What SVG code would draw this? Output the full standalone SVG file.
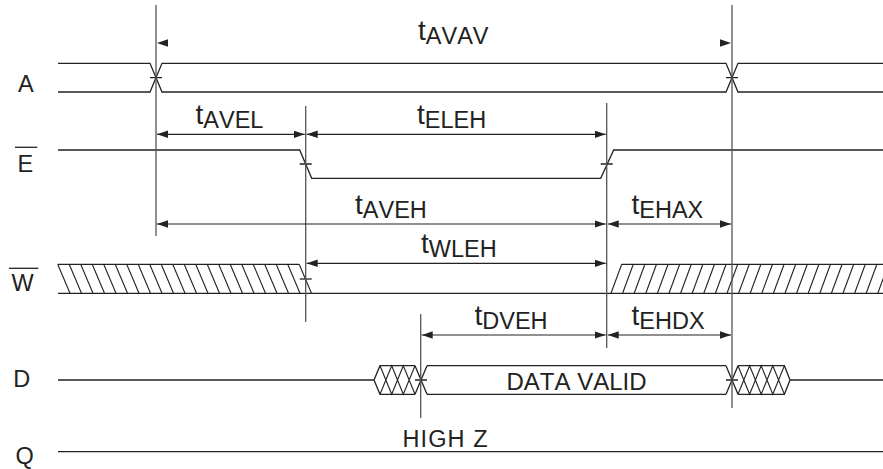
<svg xmlns="http://www.w3.org/2000/svg" width="883" height="469" viewBox="0 0 883 469">
<style>
  .sig{fill:none;stroke:#222;stroke-width:1.3}
  .hat{fill:none;stroke:#222;stroke-width:1.1}
  .ref{fill:none;stroke:#555;stroke-width:1.3}
  .dim{fill:none;stroke:#222;stroke-width:1.2;marker-start:url(#ah);marker-end:url(#ah)}
  text{font-kerning:none}
  .lbl{font-family:"Liberation Sans",Arial,sans-serif;font-size:23.5px;fill:#222}
  .t{font-family:"Liberation Sans",Arial,sans-serif;font-size:28px;fill:#222}
  .s{font-size:23.5px}
  .head{fill:#222}
</style>
<defs>
  <marker id="ah" viewBox="0 0 11 8" refX="11" refY="4" markerWidth="11" markerHeight="8" markerUnits="userSpaceOnUse" orient="auto-start-reverse">
    <path d="M0,0.3 L11,4 L0,7.7 Z" fill="#222"/>
  </marker>
</defs>
<rect width="883" height="469" fill="#fff"/>

<g id="sig-A">
  <text class="lbl" x="18" y="92.3">A</text>
  <path class="sig" d="M58,63.3 H150 L162,92 H726 L738,63.3 H883"/>
  <path class="sig" d="M58,92 H150 L162,63.3 H726 L738,92 H883"/>
  <path class="sig" d="M150,77.7 H162 M726,77.7 H738"/>
</g>

<g id="sig-E">
  <text class="lbl" x="17.4" y="172.3">E</text>
  <path class="sig" d="M15,147.3 H37.3"/>
  <path class="sig" d="M58,150 H299.7 L311.7,178.3 H600.7 L613.7,150 H883"/>
  <path class="sig" d="M299.7,164 H311.7 M600.7,164 H612.7"/>
</g>

<g id="sig-W">
  <text class="lbl" x="11.5" y="290.7">W</text>
  <path class="sig" d="M9,268.3 H38.3"/>
  <path class="sig" d="M58,264.3 H299.2 M58,293.3 H883 M621.7,264.3 H883"/>
  <path class="hat" d="M57.7,264.3 L70,293.3 M69.2,264.3 L81.5,293.3 M80.7,264.3 L93,293.3 M92.2,264.3 L104.5,293.3 M103.7,264.3 L116,293.3 M115.2,264.3 L127.5,293.3 M126.7,264.3 L139,293.3 M138.2,264.3 L150.5,293.3 M149.7,264.3 L162,293.3 M161.2,264.3 L173.5,293.3 M172.7,264.3 L185,293.3 M184.2,264.3 L196.5,293.3 M195.7,264.3 L208,293.3 M207.2,264.3 L219.5,293.3 M218.7,264.3 L231,293.3 M230.2,264.3 L242.5,293.3 M241.7,264.3 L254,293.3 M253.2,264.3 L265.5,293.3 M264.7,264.3 L277,293.3 M276.2,264.3 L288.5,293.3 M287.7,264.3 L300,293.3 M299.2,264.3 L311.5,293.3"/>
  <path class="hat" d="M611,293.3 L621.7,264.3 M622.6,293.3 L633.3,264.3 M634.2,293.3 L644.9,264.3 M645.8,293.3 L656.5,264.3 M657.4,293.3 L668.1,264.3 M669,293.3 L679.7,264.3 M680.6,293.3 L691.3,264.3 M692.2,293.3 L702.9,264.3 M703.8,293.3 L714.5,264.3 M715.4,293.3 L726.1,264.3 M727,293.3 L737.7,264.3 M738.6,293.3 L749.3,264.3 M750.2,293.3 L760.9,264.3 M761.8,293.3 L772.5,264.3 M773.4,293.3 L784.1,264.3 M785,293.3 L795.7,264.3 M796.6,293.3 L807.3,264.3 M808.2,293.3 L818.9,264.3 M819.8,293.3 L830.5,264.3 M831.4,293.3 L842.1,264.3 M843,293.3 L853.7,264.3 M854.6,293.3 L865.3,264.3 M866.2,293.3 L876.9,264.3 M877.8,293.3 L888.5,264.3"/>
  <path class="sig" d="M299.7,279 H311.7"/>
</g>

<g id="sig-D">
  <text class="lbl" x="13.3" y="386.7">D</text>
  <path class="sig" d="M58,380 H374 L380,365.7 H415 M374,380 L380,394.3 H415"/>
  <path class="hat" d="M380,365.7 L391.7,394.3 L403.3,365.7 L415,394.3 M380,394.3 L391.7,365.7 L403.3,394.3 L415,365.7"/>
  <path class="sig" d="M415,365.7 L427,394.3 M415,394.3 L427,365.7 M415,380 H427"/>
  <path class="sig" d="M427,365.7 H726 M427,394.3 H726"/>
  <path class="sig" d="M726,365.7 L738,394.3 M726,394.3 L738,365.7 M726,380 H738"/>
  <path class="hat" d="M738,365.7 L749.6,394.3 L761.2,365.7 L772.8,394.3 L784.4,365.7 M738,394.3 L749.6,365.7 L761.2,394.3 L772.8,365.7 L784.4,394.3"/>
  <path class="sig" d="M738,365.7 H784.4 L790,380 L784.4,394.3 H738 M790,380 H883"/>
  <text class="lbl" x="576.5" y="390.3" text-anchor="middle" style="font-size:24px">DATA VALID</text>
</g>

<g id="sig-Q">
  <text class="lbl" x="15.5" y="463.5">Q</text>
  <path class="sig" d="M58,451.7 H883"/>
  <text class="lbl" x="402.5" y="447" textLength="85" lengthAdjust="spacing">HIGH Z</text>
</g>

<g id="connectors">
  <path class="ref" d="M156,5 V236"/>
  <path class="ref" d="M732,5 V408"/>
  <path class="ref" d="M305.7,106 V322"/>
  <path class="ref" d="M606.7,103 V348"/>
  <path class="ref" d="M420.7,314 V418"/>

  <polygon class="head" points="157,43 168,39.3 168,46.7"/>
  <polygon class="head" points="731,43 720,39.3 720,46.7"/>

  <path class="dim" d="M157,134.3 H304.7"/>
  <path class="dim" d="M306.7,134.3 H605.7"/>
  <path class="dim" d="M157,224 H605.7"/>
  <path class="dim" d="M607.7,224 H731"/>
  <path class="dim" d="M306.7,263.3 H605.7"/>
  <path class="dim" d="M421.7,335 H605.7"/>
  <path class="dim" d="M607.7,335 H731"/>
</g>

<g id="labels">
  <text class="t" x="418" y="39.5">t<tspan class="s" dy="4">AVAV</tspan></text>
  <text class="t" x="195.5" y="123.8">t<tspan class="s" dy="4">AVEL</tspan></text>
  <text class="t" x="417" y="123.8">t<tspan class="s" dy="4">ELEH</tspan></text>
  <text class="t" x="355" y="213.5">t<tspan class="s" dy="4">AVEH</tspan></text>
  <text class="t" x="631.5" y="213.5">t<tspan class="s" dy="4">EHAX</tspan></text>
  <text class="t" x="421" y="252.8">t<tspan class="s" dy="4">WLEH</tspan></text>
  <text class="t" x="474.5" y="324.5">t<tspan class="s" dy="4">DVEH</tspan></text>
  <text class="t" x="631.5" y="324.5">t<tspan class="s" dy="4">EHDX</tspan></text>
</g>
</svg>
